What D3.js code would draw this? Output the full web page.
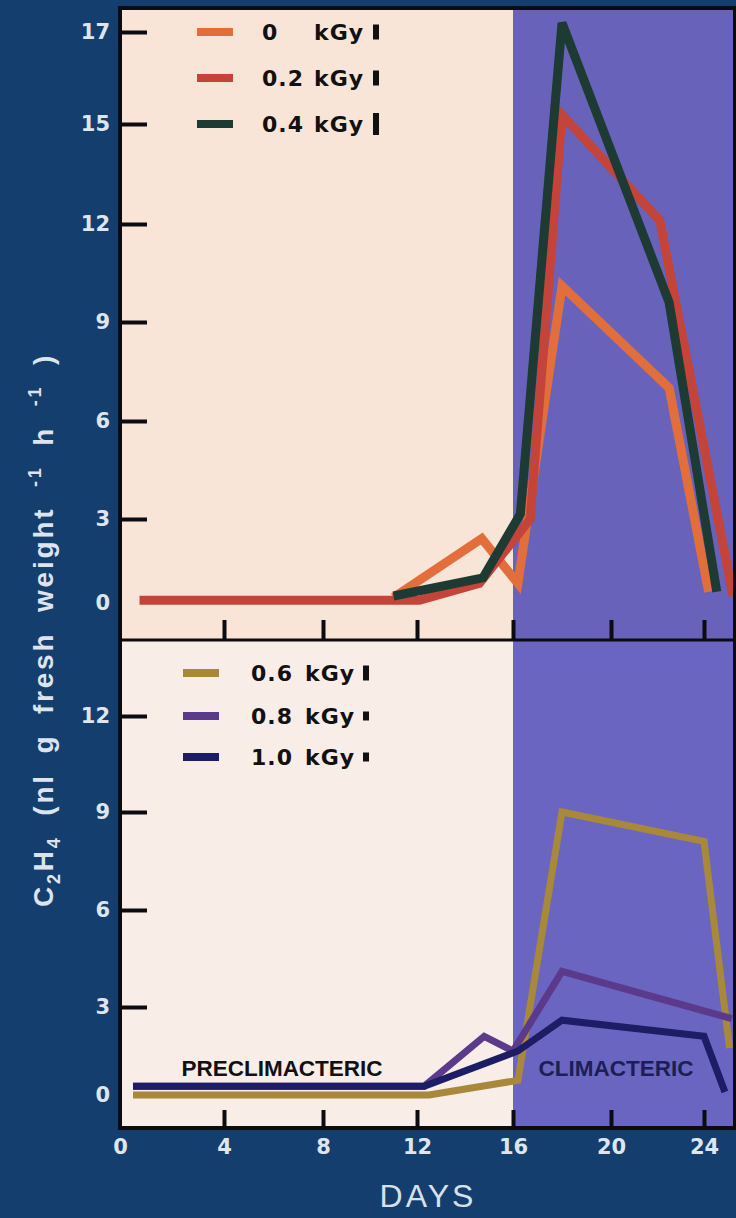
<!DOCTYPE html>
<html>
<head>
<meta charset="utf-8">
<script src="https://cdn.jsdelivr.net/npm/d3@7"></script>
<style>
  body { margin: 0; background: #143e6e; }
  svg { display: block; }
</style>
</head>
<body>
<script>
// axis ticks
const dayTicks = [0, 4, 8, 12, 16, 20, 24];
const topTicks = [0, 3, 6, 9, 12, 15, 17];
const bottomTicks = [0, 3, 6, 9, 12];
const phaseStart = 16; // climacteric begins

// upper panel : 0, 0.2, 0.4 kGy
const topDoses = ["0", "0.2", "0.4"];
const days0 = [11, 14.7, 16.2, 18, 22.5, 24.2];
const vals0 = [0.2, 2.3, 0.7, 10.1, 7.0, 0.4];
const days02 = [0.75, 12.1, 14.6, 16.7, 18, 22.1, 25.25];
const vals02 = [0.1, 0.1, 0.7, 3.0, 15.2, 12.1, 0.25];
const days04 = [11, 14.75, 16.3, 18, 22.5, 24.55];
const vals04 = [0.25, 0.9, 3.15, 17.2, 9.6, 0.4];

// lower panel : 0.6, 0.8, 1.0 kGy
const bottomDoses = ["0.6", "0.8", "1.0"];
const days06 = [0.5, 12.5, 16.2, 18, 24, 25.1];
const vals06 = [0.0, 0.0, 0.5, 9.0, 8.1, 1.6];
const days08 = [0.5, 12.3, 14.8, 16, 18, 25.2];
const vals08 = [0.3, 0.3, 2.0, 1.5, 4.1, 2.6];
const days10 = [0.5, 12.3, 16.2, 18, 24, 24.9];
const vals10 = [0.3, 0.3, 1.5, 2.55, 2.0, 0.1];

const W = 736, H = 1218;
const fL = 120, fR = 735, fT = 8, fM = 640, fB = 1128; // frame edges

const svg = d3.select("body").append("svg").attr("width", W).attr("height", H);

// hand drawn axes are not quite even, so piecewise scales
const x = d3.scaleLinear().domain(dayTicks).range([120, 224, 323, 417, 513, 611, 704]);
const yTop = d3.scaleLinear().domain(topTicks).range([603, 519, 421, 322, 224, 124, 32]);
const yBot = d3.scaleLinear().domain(bottomTicks).range([1095, 1007, 910, 812, 716]);

// panel backgrounds
svg.append("rect").attr("x", fL).attr("y", fT).attr("width", x(phaseStart) - fL).attr("height", fM - fT).attr("fill", "#f9e4d8");
svg.append("rect").attr("x", x(phaseStart)).attr("y", fT).attr("width", fR - x(phaseStart)).attr("height", fM - fT).attr("fill", "#6862bb");
svg.append("rect").attr("x", fL).attr("y", fM).attr("width", x(phaseStart) - fL).attr("height", fB - fM).attr("fill", "#f9ede8");
svg.append("rect").attr("x", x(phaseStart)).attr("y", fM).attr("width", fR - x(phaseStart)).attr("height", fB - fM).attr("fill", "#6a65c1");

// phase labels
svg.append("text").attr("x", 282).attr("y", 1076).attr("text-anchor", "middle")
  .attr("font-family", "Liberation Sans, Arial").attr("font-weight", "bold").attr("font-size", 22.5)
  .attr("fill", "#111").text("PRECLIMACTERIC");
svg.append("text").attr("x", 616).attr("y", 1076).attr("text-anchor", "middle")
  .attr("font-family", "Liberation Sans, Arial").attr("font-weight", "bold").attr("font-size", 22.5)
  .attr("fill", "#1c1f55").text("CLIMACTERIC");

// lines
function drawSeries(y, days, vals, color, width) {
  const pts = days.map((d, i) => [d, vals[i]]);
  const line = d3.line().x(d => x(d[0])).y(d => y(d[1]));
  svg.append("path").datum(pts).attr("d", line)
    .attr("fill", "none").attr("stroke", color).attr("stroke-width", width)
    .attr("stroke-linejoin", "miter").attr("stroke-linecap", "butt");
}

const topColors = ["#e26f3b", "#c4443a", "#1d3b33"];
const bottomColors = ["#a8883a", "#5b3a8c", "#1c1d64"];

drawSeries(yTop, days0, vals0, topColors[0], 9);
drawSeries(yTop, days02, vals02, topColors[1], 9);
drawSeries(yTop, days04, vals04, topColors[2], 9);
drawSeries(yBot, days06, vals06, bottomColors[0], 7);
drawSeries(yBot, days08, vals08, bottomColors[1], 7);
drawSeries(yBot, days10, vals10, bottomColors[2], 7);

// frame
svg.append("rect").attr("x", fL).attr("y", fT).attr("width", fR - fL).attr("height", fB - fT)
  .attr("fill", "none").attr("stroke", "#0b0b10").attr("stroke-width", 4);
svg.append("line").attr("x1", fL).attr("x2", fR).attr("y1", fM).attr("y2", fM)
  .attr("stroke", "#0b0b10").attr("stroke-width", 3);

// y axes: labels outside, marks inside
function yAxis(y, ticks) {
  const labels = svg.append("g").attr("transform", `translate(${fL},0)`)
    .call(d3.axisLeft(y).tickValues(ticks).tickSize(0).tickPadding(10));
  labels.select(".domain").remove();
  labels.selectAll("text").attr("font-family", "DejaVu Sans").attr("font-weight", "bold")
    .attr("font-size", 21).attr("fill", "#dfe5ee");
  const marks = svg.append("g").attr("transform", `translate(${fL},0)`)
    .call(d3.axisLeft(y).tickValues(ticks.filter(t => t > 0)).tickSize(-27).tickFormat(""));
  marks.select(".domain").remove();
  marks.selectAll("line").attr("stroke", "#0b0b10").attr("stroke-width", 4);
}
yAxis(yTop, topTicks);
yAxis(yBot, bottomTicks);

// x marks in both panels, labels under the bottom one
function xMarks(yPos, len) {
  const g = svg.append("g").attr("transform", `translate(0,${yPos})`)
    .call(d3.axisBottom(x).tickValues(dayTicks.filter(t => t > 0)).tickSize(-len).tickFormat(""));
  g.select(".domain").remove();
  g.selectAll("line").attr("stroke", "#0b0b10").attr("stroke-width", 4);
}
xMarks(fM, 20);
xMarks(fB, 18);
const xl = svg.append("g").attr("transform", `translate(0,${fB})`)
  .call(d3.axisBottom(x).tickValues(dayTicks).tickSize(0).tickPadding(11));
xl.select(".domain").remove();
xl.selectAll("text").attr("font-family", "DejaVu Sans").attr("font-weight", "bold")
  .attr("font-size", 21).attr("fill", "#dfe5ee");

// axis titles
svg.append("text").attr("x", 428).attr("y", 1207).attr("text-anchor", "middle")
  .attr("font-family", "Liberation Sans, Arial").attr("font-size", 32).attr("letter-spacing", 3)
  .attr("fill", "#d9e0ea").text("DAYS");

const yt = svg.append("text").attr("transform", "translate(53,630) rotate(-90)")
  .attr("text-anchor", "middle").attr("font-family", "Liberation Sans, Arial").attr("font-weight", "bold")
  .attr("font-size", 28).attr("letter-spacing", 2.8).attr("word-spacing", 9).attr("fill", "#dde4ee");
yt.append("tspan").text("C");
yt.append("tspan").attr("dy", 7).attr("font-size", 18).text("2");
yt.append("tspan").attr("dy", -7).text("H");
yt.append("tspan").attr("dy", 7).attr("font-size", 18).text("4");
yt.append("tspan").attr("dy", -7).text(" (nl g fresh weight ");
yt.append("tspan").attr("dy", -12).attr("font-size", 18).text("-1");
yt.append("tspan").attr("dy", 12).text(" h ");
yt.append("tspan").attr("dy", -12).attr("font-size", 18).text("-1");
yt.append("tspan").attr("dy", 12).text(" )");

// legends
function legend(doses, colors, x0, y0s, numX, anchor, kX, barX, barH) {
  doses.forEach((d, i) => {
    const g = svg.append("g");
    g.append("rect").attr("x", x0).attr("y", y0s[i] - 4).attr("width", 36).attr("height", 8).attr("fill", colors[i]);
    const t = g.append("text").attr("y", y0s[i] + 8).attr("font-family", "DejaVu Sans")
      .attr("font-weight", "bold").attr("font-size", 22).attr("letter-spacing", 1).attr("fill", "#111");
    t.append("tspan").attr("x", numX).attr("text-anchor", anchor).text(d);
    t.append("tspan").attr("x", kX).attr("text-anchor", "start").text("kGy");
    g.append("rect").attr("x", barX).attr("y", y0s[i] - barH[i] / 2).attr("width", 6).attr("height", barH[i]).attr("fill", "#111");
  });
}
legend(topDoses, topColors, 197, [32, 78, 124], 262, "start", 314, 373, [15, 15, 22]);
legend(bottomDoses, bottomColors, 183, [673, 716, 757], 293, "end", 305, 363, [15, 9, 9]);
</script>
</body>
</html>
